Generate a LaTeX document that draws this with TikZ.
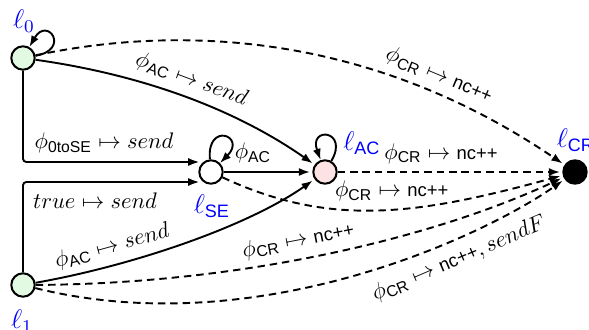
\documentclass[tikz,border=0pt]{standalone}
\usepackage{amsmath}
\usepackage{fontspec}
\setsansfont{Liberation Sans}
\usetikzlibrary{arrows.meta}
\definecolor{lgreen}{RGB}{226,250,226}
\definecolor{lpink}{RGB}{252,226,226}
\newcommand\ncpp{\text{\fontsize{8.2}{9}\selectfont\sffamily nc++}}
\newcommand\sfs[1]{\textsf{#1}}
\begin{document}
\begin{tikzpicture}[x=0.4444pt,y=0.4444pt,
  state/.style={circle,draw,line width=0.9pt,minimum size=10.4pt,inner sep=0pt},
  loc/.style={text=blue,font=\large,inner sep=0pt},
  arr/.style={line width=0.85pt,-{Latex[length=5pt,width=3.6pt]},shorten >=1pt},
  dsh/.style={arr,dash pattern=on 3.3pt off 2.2pt},
  lbl/.style={inner sep=0pt}]
\useasboundingbox (0,0) rectangle (589,329);
% states
\node[state,fill=lgreen] (l0) at (23,271) {};
\node[state,fill=lgreen] (l1) at (23,44) {};
\node[state,fill=white] (se) at (211,157) {};
\node[state,fill=lpink] (ac) at (325,157) {};
\node[state,fill=black] (cr) at (575,157) {};
% location names
\node[loc] (t0) at (24,308) {$\ell_0$};
\node[loc] (t1) at (22,8) {$\ell_1$};
\node[loc] (tse) at (212,123) {$\ell_{\sfs{SE}}$};
\node[loc] (tac) at (362,186) {$\ell_{\sfs{AC}}$};
\node[loc] (tcr) at (576,189) {$\ell_{\sfs{CR}}$};
% self loops
\draw[arr,shorten >=0pt] (l0) to[out=10,in=60,looseness=1,min distance=16pt] (l0);
\draw[arr,shorten >=0pt] (se) to[out=95,in=45,looseness=1,min distance=17pt] (se);
\draw[arr,shorten >=0pt] (ac) to[out=60,in=110,looseness=1,min distance=16pt] (ac);
\node[lbl] (lse) at (253,176) {$\phi_{\sfs{AC}}$};
% solid edges
\draw[arr] (l0) .. controls +(-8:120) and +(145:110) .. node[pos=0.5,sloped,above,inner sep=3.3pt] (a1) {$\phi_{\sfs{AC}} \mapsto send$} (ac);
\draw[arr] (l1) .. controls +(10:112) and +(-145:95) .. node[pos=0.27,sloped,above,inner sep=3.3pt] (a8) {$\phi_{\sfs{AC}} \mapsto send$} (ac);
\draw[arr,rounded corners=1.5pt,shorten >=0pt] (l0) |- ([xshift=0.5pt,yshift=4.44pt]se.west);
\draw[arr,rounded corners=1.5pt,shorten >=0pt] (l1) |- ([xshift=0.5pt,yshift=-4.44pt]se.west);
\node[lbl] (a3) at (104,186) {$\phi_{\sfs{0toSE}} \mapsto send$};
\node[lbl] (a4) at (95,128) {$true \mapsto send$};
\draw[arr] (se) -- (ac);
% dashed edges to CR
\draw[dsh] (l0) .. controls +(12:130) and +(145.8:272) .. node[pos=0.79,sloped,above,inner sep=3.3pt] (a2) {$\phi_{\sfs{CR}} \mapsto \ncpp$} (cr);
\draw[dsh] (ac) -- node[pos=0.46,above,inner sep=3.3pt] (a6) {$\phi_{\sfs{CR}} \mapsto \ncpp$} (cr);
\draw[dsh] (se) .. controls +(-25:132) and +(195.3:163) .. node[pos=0.54,above,inner sep=3.3pt] (a7) {$\phi_{\sfs{CR}} \mapsto \ncpp$} (cr);
\draw[dsh] (l1) .. controls +(0.3:212.5) and +(204.9:162.6) .. node[pos=0.46,sloped,above,inner sep=3.3pt] (a9) {$\phi_{\sfs{CR}} \mapsto \ncpp$} (cr);
\draw[dsh] (l1) .. controls +(-14:240) and +(215.1:112.5) .. node[pos=0.69,sloped,below,inner sep=4pt] (a10) {$\phi_{\sfs{CR}} \mapsto \ncpp, sendF$} (cr);
\end{tikzpicture}
\end{document}
